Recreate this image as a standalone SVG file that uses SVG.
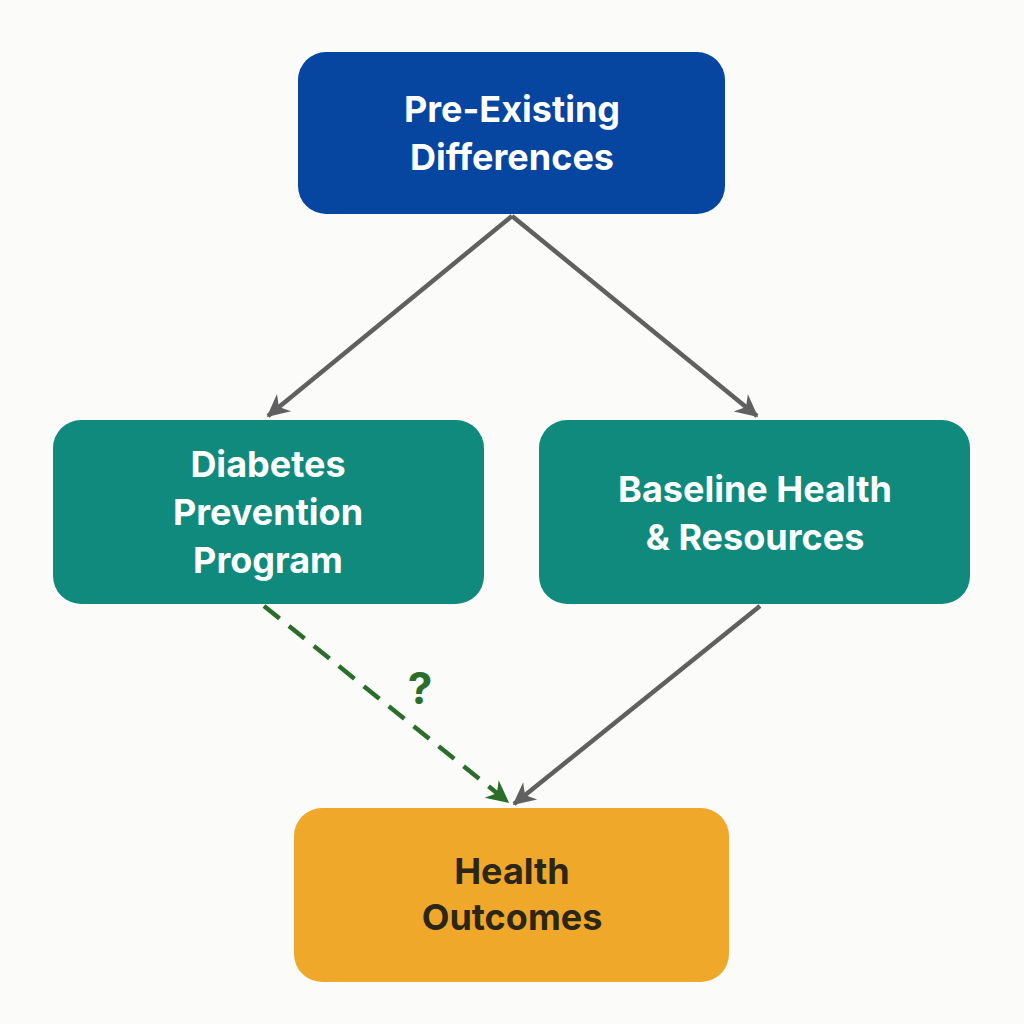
<svg xmlns="http://www.w3.org/2000/svg" width="1024" height="1024" viewBox="0 0 1024 1024">
<style>
.t{font-family:"Inter","Open Sans","Liberation Sans",sans-serif;font-weight:700;font-size:36px;text-anchor:middle}
.w{fill:#ffffff}.d{fill:#2b2616}
.c{fill:none;stroke:#606060;stroke-width:4.5}
</style>
<defs>
<marker id="ag" viewBox="0 0 10 10" refX="9" refY="5" markerWidth="7" markerHeight="7" markerUnits="userSpaceOnUse" orient="auto" style="overflow:visible"><path d="M0,0 L10,5 L0,10 L3,5 z" fill="#606060" transform="scale(3.2) translate(-6.5,-3.4)"/></marker>
<marker id="gr" viewBox="0 0 10 10" refX="9" refY="5" markerWidth="7" markerHeight="7" markerUnits="userSpaceOnUse" orient="auto" style="overflow:visible"><path d="M0,0 L10,5 L0,10 L3,5 z" fill="#2a6e2a" transform="scale(3.2) translate(-6.5,-3.4)"/></marker>
</defs>
<rect width="1024" height="1024" fill="#fbfbf9"/>
<g id="connectors">
<line class="c" x1="512" y1="216" x2="268" y2="416" marker-end="url(#ag)"/>
<line class="c" x1="512" y1="216" x2="757" y2="416" marker-end="url(#ag)"/>
<line class="c" x1="760" y1="606" x2="514" y2="804" marker-end="url(#ag)"/>
<line x1="264" y1="606" x2="508" y2="802" stroke="#2a6e2a" stroke-width="4.5" stroke-dasharray="20,12" marker-end="url(#gr)"/>
<text class="t" x="420" y="704" style="fill:#2a6e2a;font-size:44px">?</text>
</g>
<g id="pre"><rect x="298" y="52" width="427" height="162" rx="28" fill="#0645a0"/>
<text class="t w" x="512" y="122">Pre-Existing</text><text class="t w" x="512" y="170">Differences</text></g>
<g id="dpp"><rect x="53" y="420" width="431" height="184" rx="28" fill="#0f8a7c"/>
<text class="t w" x="268" y="477">Diabetes</text><text class="t w" x="268" y="525">Prevention</text><text class="t w" x="268" y="573">Program</text></g>
<g id="base"><rect x="539" y="420" width="431" height="184" rx="28" fill="#0f8a7c"/>
<text class="t w" x="755" y="502">Baseline Health</text><text class="t w" x="755" y="550">&amp; Resources</text></g>
<g id="out"><rect x="294" y="808" width="435" height="174" rx="28" fill="#f0a82a"/>
<text class="t d" x="512" y="884">Health</text><text class="t d" x="512" y="930">Outcomes</text></g>
</svg>
